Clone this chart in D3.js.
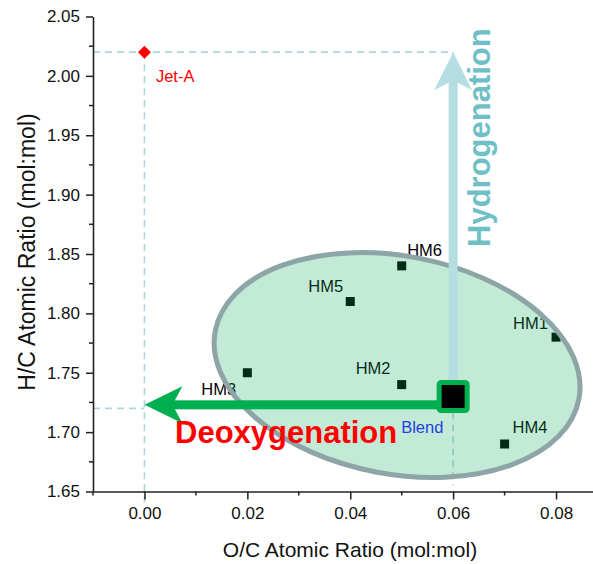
<!DOCTYPE html>
<html>
<head>
<meta charset="utf-8">
<script src="https://cdn.jsdelivr.net/npm/d3@7"></script>
<style>
  html, body { margin: 0; padding: 0; background: #fff; }
  svg { display: block; font-family: "Liberation Sans", Arial, sans-serif; }
</style>
</head>
<body>
<svg id="chart" width="593" height="564"></svg>
<script>
// Fuel samples: O/C and H/C atomic ratios
const samples = ["HM1", "HM2", "HM3", "HM4", "HM5", "HM6"];
const sampleOC = [0.08, 0.05, 0.02, 0.07, 0.04, 0.05];
const sampleHC = [1.78, 1.74, 1.75, 1.69, 1.81, 1.84];

const blendOC = 0.06, blendHC = 1.73;
const jetOC = 0.00, jetHC = 2.02;
const deoxTargetHC = 1.723;   // level of the deoxygenation arrow
const jetRefHC = 1.72;        // dashed reference at the deoxygenated blend

const xTicks = [0.00, 0.02, 0.04, 0.06, 0.08];
const xMinor = [-0.01, 0.01, 0.03, 0.05, 0.07, 0.09];
const yTicks = [1.65, 1.70, 1.75, 1.80, 1.85, 1.90, 1.95, 2.00, 2.05];
const yMinor = [1.675, 1.725, 1.775, 1.825, 1.875, 1.925, 1.975, 2.025];

// label placement relative to each marker (pixels)
const labelOffset = {
  HM1: [-43, -8], HM2: [-46, -10.5], HM3: [-46, 22], HM4: [8, -11],
  HM5: [-42, -10], HM6: [5.5, -10]
};

const svg = d3.select("#chart");
const x = d3.scaleLinear().domain([-0.01, 0.09]).range([93, 607.5]);
const y = d3.scaleLinear().domain([1.65, 2.05]).range([491.5, 16.5]);

const axisColor = "#222";
const dashColor = "#a9d8dc";

// dashed guide lines
const guides = svg.append("g")
  .attr("stroke", dashColor).attr("stroke-width", 1.6)
  .attr("stroke-dasharray", "7,5").attr("fill", "none");
guides.append("line").attr("x1", x(-0.01)).attr("x2", x(blendOC))
  .attr("y1", y(jetHC)).attr("y2", y(jetHC));
guides.append("line").attr("x1", x(jetOC)).attr("x2", x(jetOC))
  .attr("y1", y(jetHC)).attr("y2", y(1.65) + 11);
guides.append("line").attr("x1", x(-0.01)).attr("x2", x(jetOC))
  .attr("y1", y(jetRefHC)).attr("y2", y(jetRefHC));
guides.append("line").attr("x1", x(blendOC)).attr("x2", x(blendOC))
  .attr("y1", y(jetHC)).attr("y2", y(1.65) - 6);

// sample markers and labels
const pts = samples.map((n, i) => ({ name: n, oc: sampleOC[i], hc: sampleHC[i] }));
svg.append("g").selectAll("rect").data(pts).join("rect")
  .attr("x", d => x(d.oc) - 4.5).attr("y", d => y(d.hc) - 4.5)
  .attr("width", 9).attr("height", 9).attr("fill", "#000");
svg.append("g").selectAll("text").data(pts).join("text")
  .attr("x", d => x(d.oc) + labelOffset[d.name][0])
  .attr("y", d => y(d.hc) + labelOffset[d.name][1])
  .attr("font-size", 16.5).attr("fill", "#000")
  .text(d => d.name);

// translucent cluster ellipse
const ecx = x(0.0491), ecy = y(1.7565);
svg.append("ellipse")
  .attr("cx", 0).attr("cy", 0).attr("rx", 185).attr("ry", 109)
  .attr("transform", `translate(${ecx},${ecy}) rotate(10.6)`)
  .attr("fill", "rgb(15,171,91)").attr("fill-opacity", 0.25)
  .attr("stroke", "#8da5a7").attr("stroke-width", 5);

// arrows
function arrow(x1, y1, x2, y2, color, shaftW, headL, headW, notch) {
  const ang = Math.atan2(y2 - y1, x2 - x1);
  const len = Math.hypot(x2 - x1, y2 - y1);
  const g = svg.append("g")
    .attr("transform", `translate(${x1},${y1}) rotate(${ang * 180 / Math.PI})`);
  g.append("rect").attr("x", 0).attr("y", -shaftW / 2)
    .attr("width", len - headL + notch + 2).attr("height", shaftW).attr("fill", color);
  g.append("path")
    .attr("d", `M${len},0 L${len - headL},${-headW} L${len - headL + notch},0 L${len - headL},${headW} Z`)
    .attr("fill", color);
}
arrow(x(blendOC), y(blendHC), x(blendOC), y(jetHC), "#b6dde1", 9, 38, 19, 10);
arrow(x(blendOC), y(deoxTargetHC), x(jetOC), y(deoxTargetHC), "#00b050", 9, 38, 18.5, 10);

// blend marker
svg.append("rect")
  .attr("x", x(blendOC) - 14).attr("y", y(blendHC) - 14)
  .attr("width", 28).attr("height", 28).attr("rx", 2)
  .attr("fill", "#000").attr("stroke", "#00b050").attr("stroke-width", 5);
svg.append("text").attr("x", x(blendOC) - 52).attr("y", y(blendHC) + 36.5)
  .attr("font-size", 16.5).attr("fill", "#1f3fe0").text("Blend");

// Jet-A reference
svg.append("path")
  .attr("d", "M0,-6.5 L6.5,0 L0,6.5 L-6.5,0 Z")
  .attr("transform", `translate(${x(jetOC)},${y(jetHC)})`)
  .attr("fill", "#ff0000");
svg.append("text").attr("x", x(jetOC) + 11.5).attr("y", y(jetHC) + 30)
  .attr("font-size", 16.5).attr("fill", "#ff0000").text("Jet-A");

// process labels
svg.append("text").attr("x", 175).attr("y", y(1.65) - 48.5)
  .attr("font-size", 31).attr("font-weight", "bold").attr("fill", "#ff0000")
  .text("Deoxygenation");
svg.append("text")
  .attr("transform", `translate(490,247) rotate(-90)`)
  .attr("font-size", 31).attr("font-weight", "bold").attr("fill", "#6fc0c6")
  .text("Hydrogenation");

// axes
const xAxis = svg.append("g").attr("transform", `translate(0,${y(1.65)})`)
  .call(d3.axisBottom(x).tickValues(xTicks).tickFormat(d3.format(".2f"))
    .tickSizeInner(8).tickSizeOuter(0).tickPadding(7));
xAxis.append("g").selectAll("line").data(xMinor).join("line")
  .attr("x1", d => x(d)).attr("x2", d => x(d)).attr("y1", 0).attr("y2", 4)
  .attr("stroke", axisColor).attr("stroke-width", 1.5);

const yAxis = svg.append("g").attr("transform", `translate(${x(-0.01)},0)`)
  .call(d3.axisLeft(y).tickValues(yTicks).tickFormat(d3.format(".2f"))
    .tickSizeInner(7).tickSizeOuter(0).tickPadding(6));
yAxis.append("g").selectAll("line").data(yMinor).join("line")
  .attr("y1", d => y(d)).attr("y2", d => y(d)).attr("x1", 0).attr("x2", -4)
  .attr("stroke", axisColor).attr("stroke-width", 1.5);

[xAxis, yAxis].forEach(a => {
  a.select(".domain").attr("stroke", axisColor).attr("stroke-width", 1.6);
  a.selectAll(".tick line").attr("stroke", axisColor).attr("stroke-width", 1.5);
  a.selectAll(".tick text").attr("font-size", 17).attr("fill", "#111")
    .attr("font-family", "'Liberation Sans', Arial, sans-serif");
});

svg.append("text").attr("x", 350).attr("y", 557).attr("text-anchor", "middle")
  .attr("font-size", 21).attr("fill", "#111").text("O/C Atomic Ratio (mol:mol)");
svg.append("text").attr("transform", "translate(35,252) rotate(-90)")
  .attr("text-anchor", "middle").attr("font-size", 23).attr("fill", "#111")
  .text("H/C Atomic Ratio (mol:mol)");
</script>
</body>
</html>
